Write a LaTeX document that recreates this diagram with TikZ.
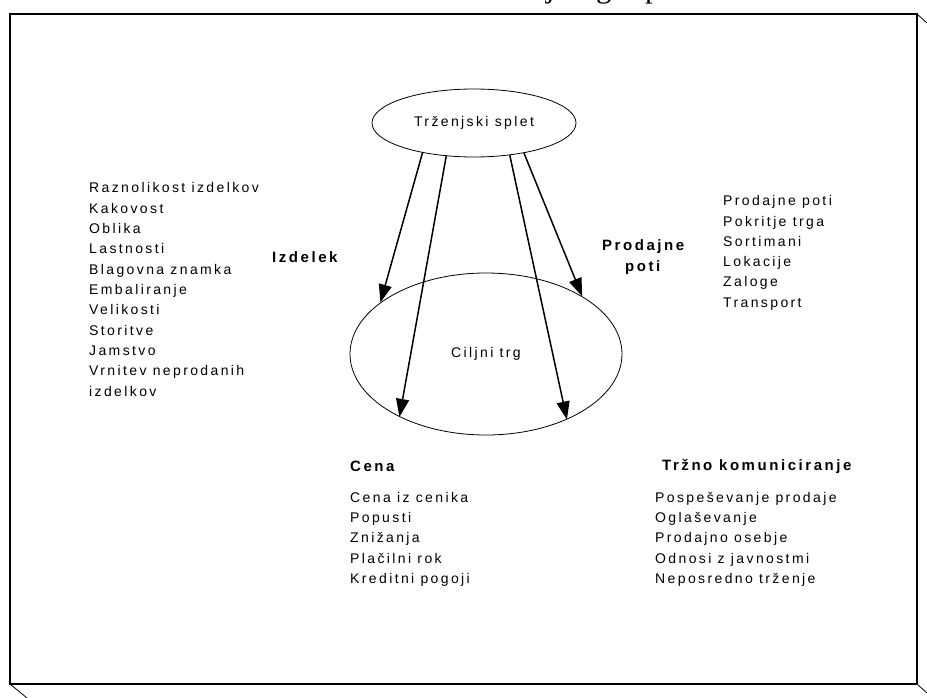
\documentclass[tikz,border=0pt]{standalone}
\usepackage{fontspec}
\setmainfont{Liberation Sans}[LetterSpace=17]
\newfontfamily\titlefont{Liberation Serif}
\usetikzlibrary{arrows.meta,shapes.geometric}

\tikzset{
  frameline/.style={line width=1.3pt},
  oval/.style={draw, ellipse, line width=0.8pt, inner sep=0pt,
               font=\fontsize{14}{17}\selectfont},
  link/.style={line width=1.5pt, -{Triangle[length=18pt,width=13pt]}},
  item/.style={inner sep=0pt, anchor=base west, font=\fontsize{14}{17}\selectfont},
  head/.style={inner sep=0pt, anchor=base west, font=\fontsize{15}{18}\selectfont\bfseries},
}

\begin{document}
\begin{tikzpicture}[x=1pt,y=-1pt]
  \useasboundingbox (0,0) rectangle (927,698);

  % caption line running above the frame
  \begin{scope}
    \clip (0,0) rectangle (927,698);
    \node[inner sep=0pt, anchor=base west, font=\titlefont\fontsize{31}{31}\selectfont]
      (caption) at (484,-2) {trženjskega spleta};
  \end{scope}

  % frame with its shadow strokes
  \draw[frameline] (10,14) rectangle (917,684);
  \draw[line width=0.8pt] (917,14) -- (927,23);
  \draw[line width=0.8pt] (10,684) -- (27,698);
  \draw[line width=0.8pt] (917,684) -- (927,693);

  % the two ellipses
  \node[oval, minimum width=204pt, minimum height=68pt] (mix) at (474,123) {Trženjski splet};
  \node[oval, minimum width=272pt, minimum height=162pt] (market) at (486,354) {Ciljni trg};

  % the four instruments pointing at the target market
  \draw[link] (mix.210.5) -- (market.154);
  \draw[link] (mix.230.5) -- (market.216);
  \draw[link] (mix.318.4) -- (market.321.3);
  \draw[link] (mix.329.5) -- (market.31.8);

  % Izdelek
  \node[head] (hIzd) at (272,262) {Izdelek};
  \foreach \t [count=\i] in {Raznolikost izdelkov, Kakovost, Oblika, Lastnosti,
      Blagovna znamka, Embaliranje, Velikosti, Storitve, Jamstvo,
      Vrnitev neprodanih, izdelkov}
    \node[item] (izd\i) at (89,{193+20.3*(\i-1)}) {\t};

  % Prodajne poti
  \node[head] (hPot1) at (602,251) {Prodajne};
  \node[head] (hPot2) at (625,271) {poti};
  \foreach \t [count=\i] in {Prodajne poti, Pokritje trga, Sortimani, Lokacije,
      Zaloge, Transport}
    \node[item] (pot\i) at (723,{206+20.2*(\i-1)}) {\t};

  % Cena
  \node[head] (hCen) at (350,471) {Cena};
  \foreach \t [count=\i] in {Cena iz cenika, Popusti, Znižanja, Plačilni rok,
      Kreditni pogoji}
    \node[item] (cen\i) at (350,{502+20.4*(\i-1)}) {\t};

  % Tržno komuniciranje
  \node[head] (hKom) at (662,470) {Tržno komuniciranje};
  \foreach \t [count=\i] in {Pospeševanje prodaje, Oglaševanje, Prodajno osebje,
      Odnosi z javnostmi, Neposredno trženje}
    \node[item] (kom\i) at (655,{502+20.4*(\i-1)}) {\t};
\end{tikzpicture}
\end{document}
